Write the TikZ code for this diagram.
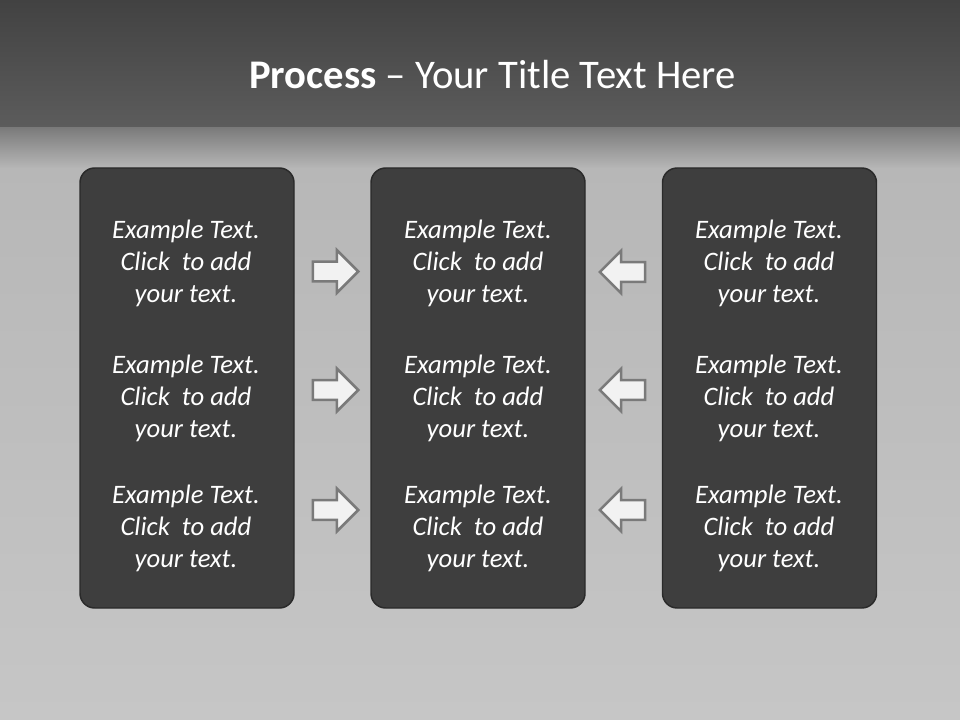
\documentclass[tikz,border=0pt]{standalone}
\usepackage{fontspec}
\setmainfont{Carlito}
\usetikzlibrary{shapes.arrows}

\definecolor{barTop}{HTML}{424242}
\definecolor{barBottom}{HTML}{5C5C5C}
\definecolor{fadeTop}{HTML}{7A7A7A}
\definecolor{pageTop}{HTML}{B6B6B6}
\definecolor{pageBottom}{HTML}{C6C6C6}
\definecolor{panelFill}{HTML}{3E3E3E}
\definecolor{panelEdge}{HTML}{2A2A2A}
\definecolor{arrowFill}{HTML}{F2F2F2}
\definecolor{arrowEdge}{HTML}{7A7A7A}

\tikzset{
	panel/.style={draw=panelEdge, fill=panelFill, rounded corners=11pt, line width=1.1pt, minimum width=160.5pt, minimum height=330pt, inner sep=0pt},
	panelText/.style={align=center, text=white, font=\itshape\fontsize{20}{24}\selectfont},
	fwdArrow/.style={single arrow, draw=arrowEdge, fill=arrowFill, line width=1.9pt, minimum height=34pt, minimum width=30.75pt, inner sep=6.5pt, single arrow head extend=8.6pt, anchor=tip},
	backArrow/.style={fwdArrow, shape border rotate=180},
}

\begin{document}
\begin{tikzpicture}[x=0.75pt, y=-0.75pt]
		\useasboundingbox (0,0) rectangle (960,720);

		% page and title bar
		\shade[top color=pageTop, bottom color=pageBottom] (0,127) rectangle (960,720);
		\shade[top color=fadeTop, bottom color=pageTop] (0,127) rectangle (960,168);
		\shade[top color=barTop, bottom color=barBottom] (0,0) rectangle (960,127);

		\node[text=white, font=\fontsize{30.5}{36}\selectfont] (title) at (492.5,75) {\textbf{Process} – Your Title Text Here};

		% panels
		\node[panel] (left) at (187,388) {};
		\node[panel] (middle) at (478,388) {};
		\node[panel] (right) at (769.5,388) {};

		\node[panelText] (left1) at (186,263) {Example Text.\\Click~ to add\\your text.};
		\node[panelText] (left2) at (186,398) {Example Text.\\Click~ to add\\your text.};
		\node[panelText] (left3) at (186,528) {Example Text.\\Click~ to add\\your text.};

		\node[panelText] (middle1) at (478,263) {Example Text.\\Click~ to add\\your text.};
		\node[panelText] (middle2) at (478,398) {Example Text.\\Click~ to add\\your text.};
		\node[panelText] (middle3) at (478,528) {Example Text.\\Click~ to add\\your text.};

		\node[panelText] (right1) at (769,263) {Example Text.\\Click~ to add\\your text.};
		\node[panelText] (right2) at (769,398) {Example Text.\\Click~ to add\\your text.};
		\node[panelText] (right3) at (769,528) {Example Text.\\Click~ to add\\your text.};

		% arrows between panels
		\node[fwdArrow] (fwd1) at (360,271.5) {};
		\node[fwdArrow] (fwd2) at (360,390) {};
		\node[fwdArrow] (fwd3) at (360,510) {};

		\node[backArrow] (back1) at (598,272) {};
		\node[backArrow] (back2) at (598,390) {};
		\node[backArrow] (back3) at (598,510) {};

	\end{tikzpicture}
\end{document}
